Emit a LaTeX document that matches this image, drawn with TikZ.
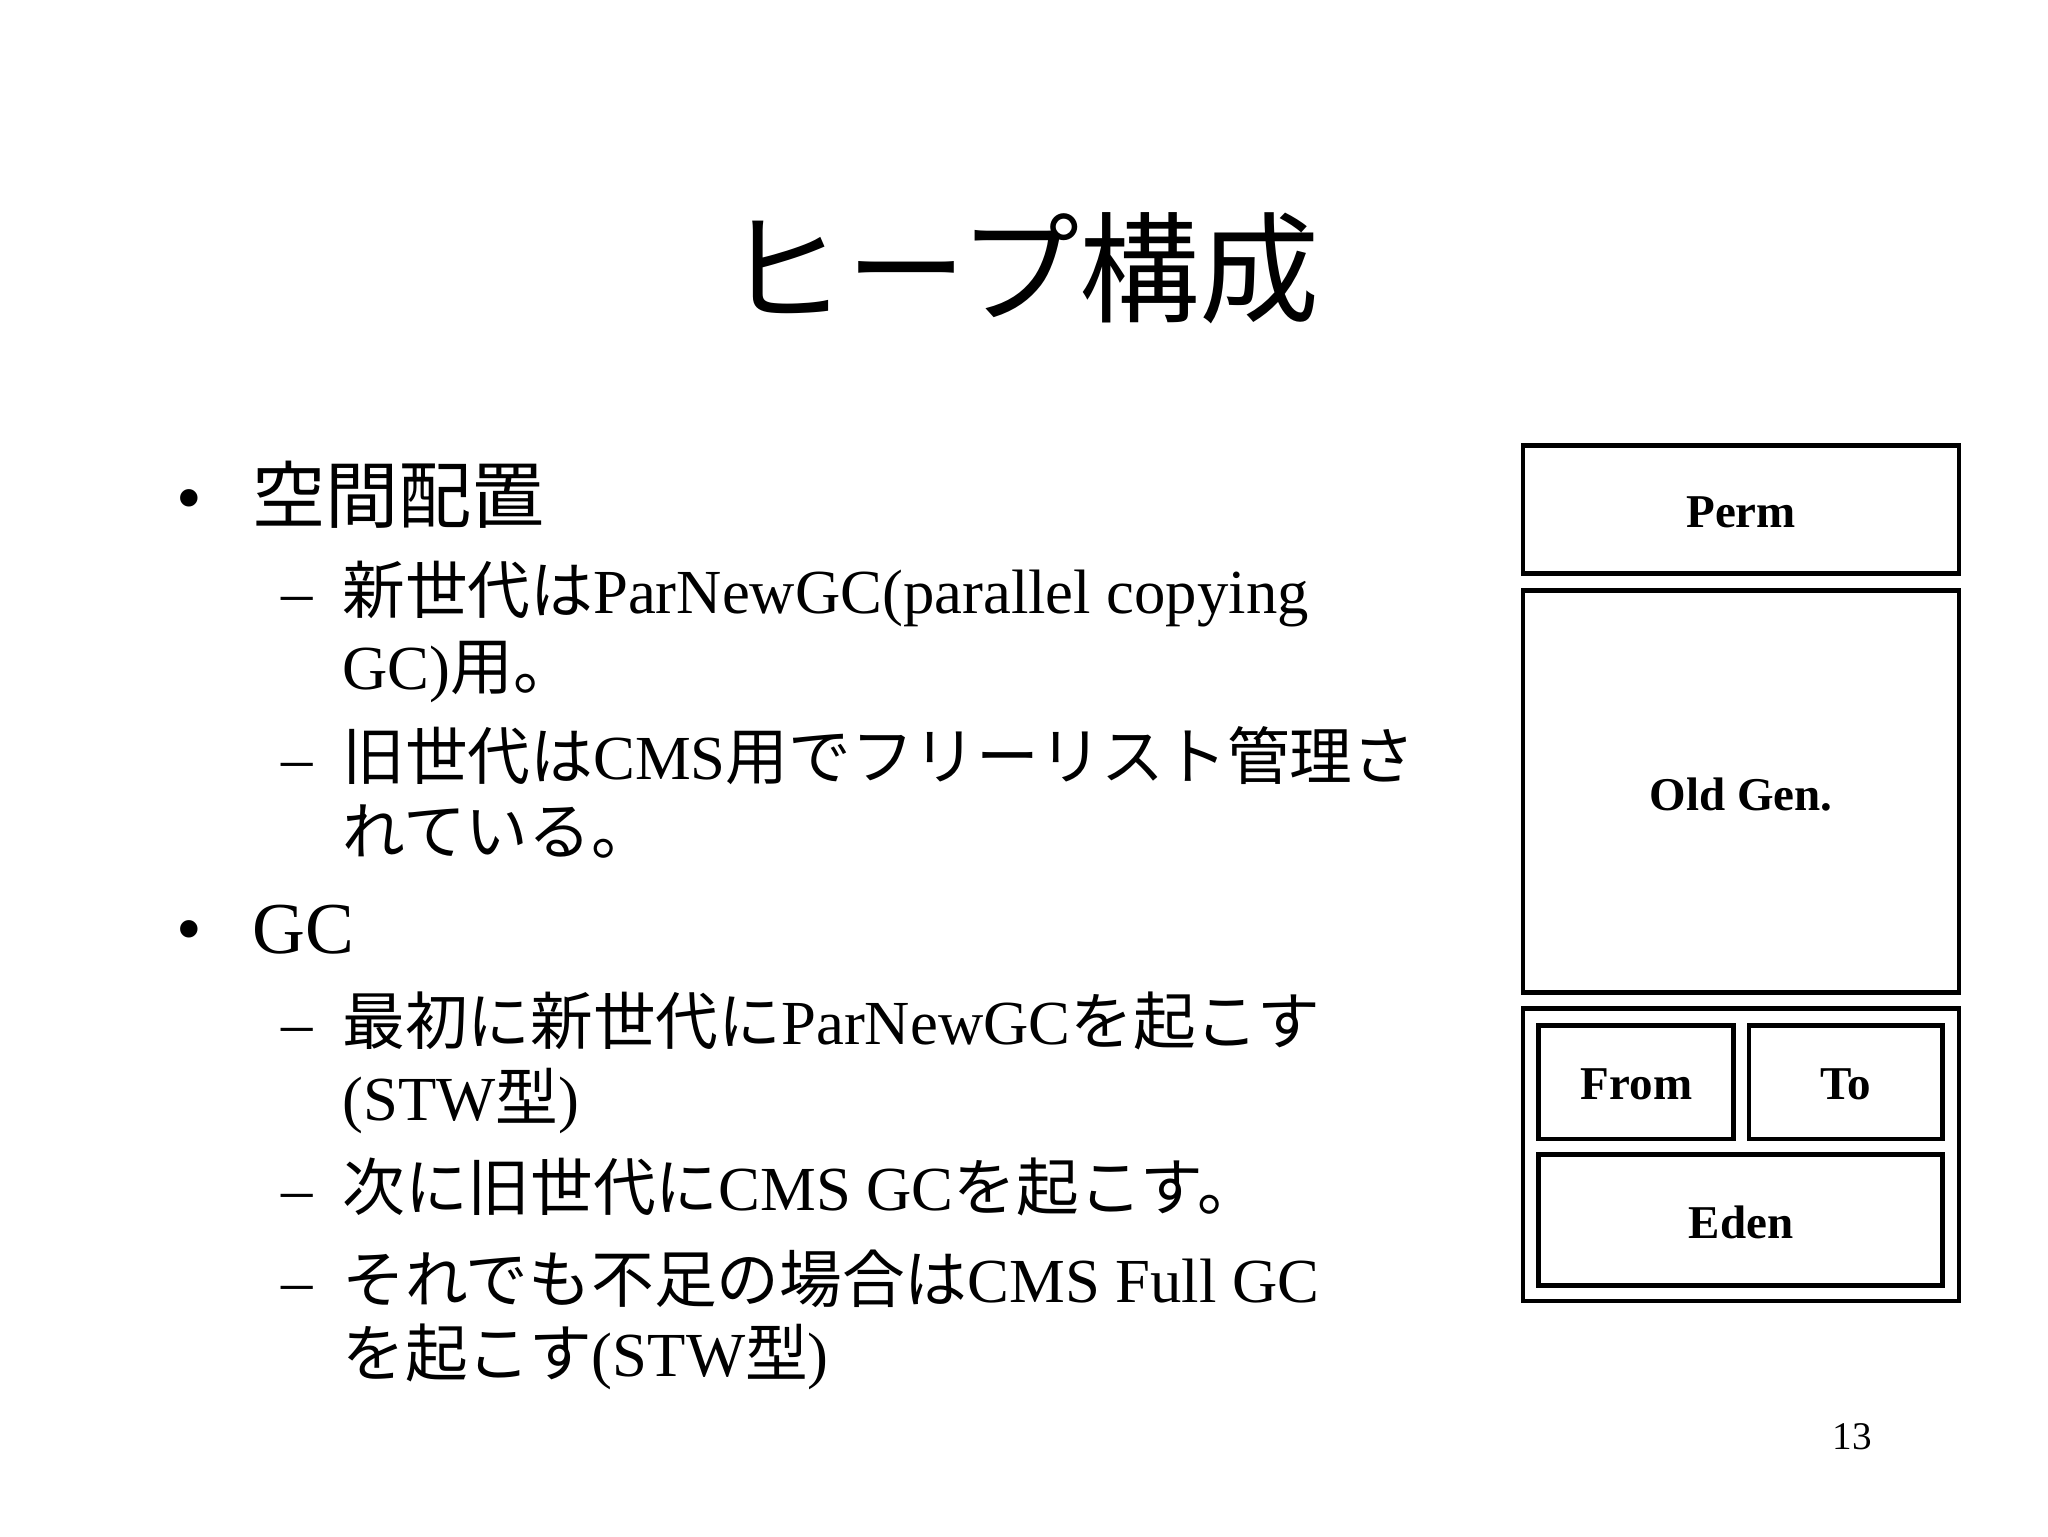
\documentclass[tikz,border=0pt]{standalone}
\usepackage{fontspec}
\setmainfont{Liberation Serif}
\newfontfamily\jp{Noto Sans CJK JP}
\newcommand{\J}[1]{{\jp #1}}
\begin{document}
\begin{tikzpicture}[x=1pt,y=-1pt,
  box/.style={draw,line width=3.5pt},
  lbl/.style={font=\fontsize{36}{40}\selectfont\bfseries},
  l1/.style={anchor=base west,inner sep=0,font=\fontsize{56}{60}\selectfont},
  l2/.style={anchor=base west,inner sep=0,font=\fontsize{48}{54}\selectfont}]
\useasboundingbox (0,0) rectangle (1568,1176);
\node[inner sep=0,anchor=base,font=\fontsize{92}{100}\selectfont] (title) at (783,240) {\J{ヒープ構成}};
% left text
\node[l1] (b1) at (135,400) {•};
\node[l1] (t1) at (193,400) {\J{空間配置}};
\node[l2] (d1) at (215,470) {–};
\node[l2] (s1) at (262,470) {\J{新世代は}ParNewGC(parallel copying};
\node[l2] (s1b) at (262,528) {GC)\J{用。}};
\node[l2] (d2) at (215,597) {–};
\node[l2] (s2) at (262,597) {\J{旧世代は}CMS\J{用でフリーリスト管理さ}};
\node[l2] (s2b) at (262,654) {\J{れている。}};
\node[l1] (b2) at (135,730) {•};
\node[l1] (t2) at (193,730) {GC};
\node[l2] (d3) at (215,800) {–};
\node[l2] (s3) at (262,800) {\J{最初に新世代に}ParNewGC\J{を起こす}};
\node[l2] (s3b) at (262,858) {(STW\J{型})};
\node[l2] (d4) at (215,927) {–};
\node[l2] (s4) at (262,927) {\J{次に旧世代に}CMS GC\J{を起こす。}};
\node[l2] (d5) at (215,997) {–};
\node[l2] (s5) at (262,997) {\J{それでも不足の場合は}CMS Full GC};
\node[l2] (s5b) at (262,1054) {\J{を起こす}(STW\J{型})};
% heap boxes
\draw[box] (1166,341) rectangle (1500,439);
\node[lbl] (perm) at (1333,392) {Perm};
\draw[box] (1166,452) rectangle (1500,760);
\node[lbl] (old) at (1333,608) {Old Gen.};
\draw[box] (1166,772) rectangle (1500,996);
\draw[box] (1178,785) rectangle (1327,872);
\node[lbl] (from) at (1253,830) {From};
\draw[box] (1339,785) rectangle (1487,872);
\node[lbl] (to) at (1413,830) {To};
\draw[box] (1178,884) rectangle (1487,984);
\node[lbl] (eden) at (1333,936) {Eden};
\node[inner sep=0,font=\fontsize{30}{34}\selectfont] (pg) at (1418,1100) {13};
\end{tikzpicture}
\end{document}
